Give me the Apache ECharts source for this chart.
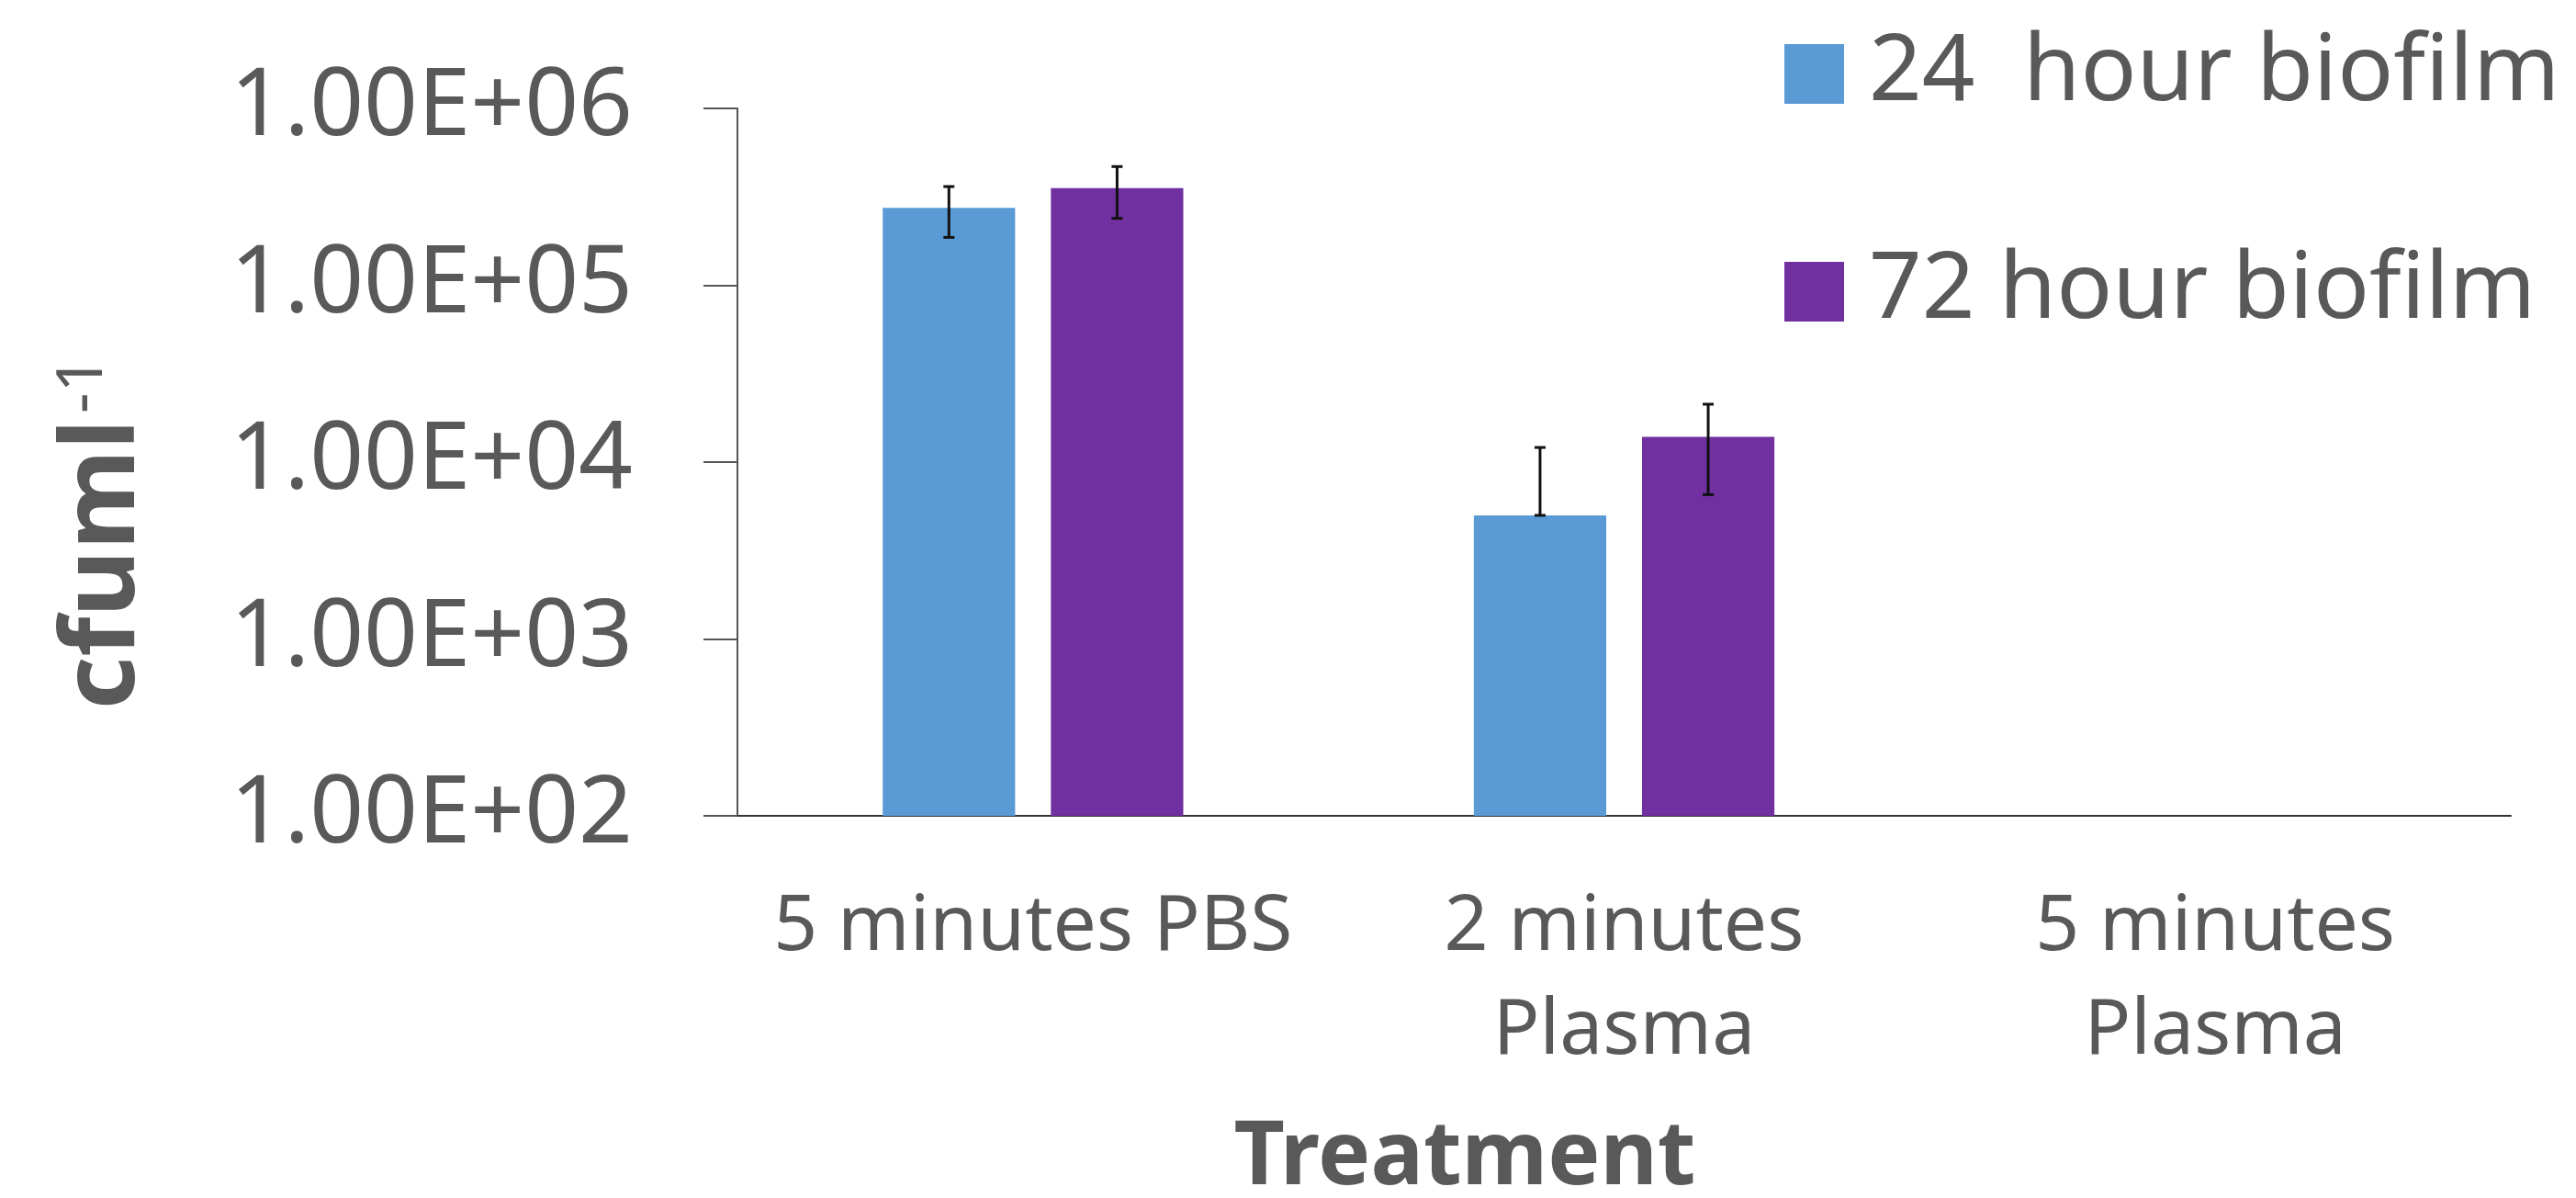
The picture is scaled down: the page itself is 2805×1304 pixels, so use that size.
<!DOCTYPE html>
<html>
<head>
<meta charset="utf-8">
<script src="https://cdn.jsdelivr.net/npm/echarts@6/dist/echarts.min.js"></script>
<style>html,body{margin:0;padding:0;background:#fff}#c{width:2805px;height:1304px}</style>
</head>
<body>
<div id="c"></div>
<script>
const categories = ['5 minutes PBS', '2 minutes\nPlasma', '5 minutes\nPlasma'];
const seriesNames = ['24  hour biofilm', '72 hour biofilm'];
const values24 = [274000, 5000, null];
const values72 = [354000, 13900, null];
const errors24 = [87500, 7100, null];
const errors72 = [115000, 7350, null];
const yTickLabels = ['1.00E+02', '1.00E+03', '1.00E+04', '1.00E+05', '1.00E+06'];
const yMin = 100, yMax = 1000000;

const TEXT = '#595959';
const FONT = 'Noto Sans';
const colors = ['#5B9BD5', '#7030A0'];
const BAR_FRAC = 0.224, GAP_FRAC = 0.27;

const errData = [];
[[values24, errors24], [values72, errors72]].forEach((pair, s) => {
  pair[0].forEach((v, i) => {
    if (v == null || pair[1][i] == null) return;
    const e = pair[1][i];
    const low = v - e > 0 ? v - e : v;
    errData.push([i, low, v + e, s]);
  });
});

const chart = echarts.init(document.getElementById('c'));
chart.setOption({
  animation: false,
  backgroundColor: '#fff',
  textStyle: { fontFamily: FONT, color: TEXT },
  grid: { left: 803, right: 71, top: 118, bottom: 416, containLabel: false },
  legend: {
    orient: 'vertical', left: 1938, top: 25,
    itemWidth: 65, itemHeight: 65, itemGap: 136,
    icon: 'rect',
    textStyle: { fontFamily: FONT, fontSize: 101, color: TEXT, padding: [0, 0, 0, 22] },
    data: seriesNames
  },
  xAxis: {
    type: 'category', data: categories,
    axisLine: { lineStyle: { color: '#333333', width: 2 } },
    axisTick: { show: false },
    axisLabel: { fontFamily: FONT, fontSize: 84, color: TEXT, margin: 66, lineHeight: 113, interval: 0 }
  },
  yAxis: {
    type: 'log', logBase: 10, min: yMin, max: yMax,
    splitLine: { show: false },
    axisLine: { show: true, lineStyle: { color: '#555555', width: 2 } },
    axisTick: { show: true, length: 37, lineStyle: { color: '#555555', width: 2 } },
    axisLabel: {
      fontFamily: FONT, fontSize: 103, color: TEXT, margin: 114,
      formatter: v => yTickLabels[Math.round(Math.log10(v)) - 2]
    }
  },
  graphic: [
    {
      type: 'text', x: 1595, y: 1262,
      style: { text: 'Treatment', fontFamily: FONT, fontSize: 96, fontWeight: 'bold', fill: TEXT, align: 'center', verticalAlign: 'middle' }
    },
    {
      type: 'text', x: 113, y: 580, rotation: Math.PI / 2,
      style: {
        text: '{m|cfuml}{s|-1}', align: 'center', verticalAlign: 'middle',
        rich: {
          m: { fontFamily: FONT, fontSize: 112, fontWeight: 'bold', fill: TEXT, verticalAlign: 'bottom' },
          s: { fontFamily: FONT, fontSize: 70, fill: TEXT, verticalAlign: 'bottom', padding: [0, 0, 44, 6] }
        }
      }
    }
  ],
  series: [
    { name: seriesNames[0], type: 'bar', data: values24.map(v => v == null ? '-' : v), itemStyle: { color: colors[0] }, barWidth: (BAR_FRAC * 100) + '%', barGap: (GAP_FRAC * 100) + '%', clip: true },
    { name: seriesNames[1], type: 'bar', data: values72.map(v => v == null ? '-' : v), itemStyle: { color: colors[1] }, barWidth: (BAR_FRAC * 100) + '%', barGap: (GAP_FRAC * 100) + '%', clip: true },
    {
      type: 'custom', data: errData, z: 10, silent: true,
      encode: { x: 0, y: [1, 2] },
      renderItem: (params, api) => {
        const cat = api.value(0), s = api.value(3);
        const band = api.size([1, 0])[0];
        const bw = band * BAR_FRAC, gap = bw * GAP_FRAC;
        const off = (s === 0 ? -1 : 1) * (bw + gap) / 2;
        const pLow = api.coord([cat, api.value(1)]);
        const pHigh = api.coord([cat, api.value(2)]);
        const x = pLow[0] + off, cap = 6;
        const st = { stroke: '#111', lineWidth: 3 };
        return {
          type: 'group', children: [
            { type: 'line', shape: { x1: x, y1: pLow[1], x2: x, y2: pHigh[1] }, style: st },
            { type: 'line', shape: { x1: x - cap, y1: pLow[1], x2: x + cap, y2: pLow[1] }, style: st },
            { type: 'line', shape: { x1: x - cap, y1: pHigh[1], x2: x + cap, y2: pHigh[1] }, style: st }
          ]
        };
      }
    }
  ]
});
</script>
</body>
</html>
